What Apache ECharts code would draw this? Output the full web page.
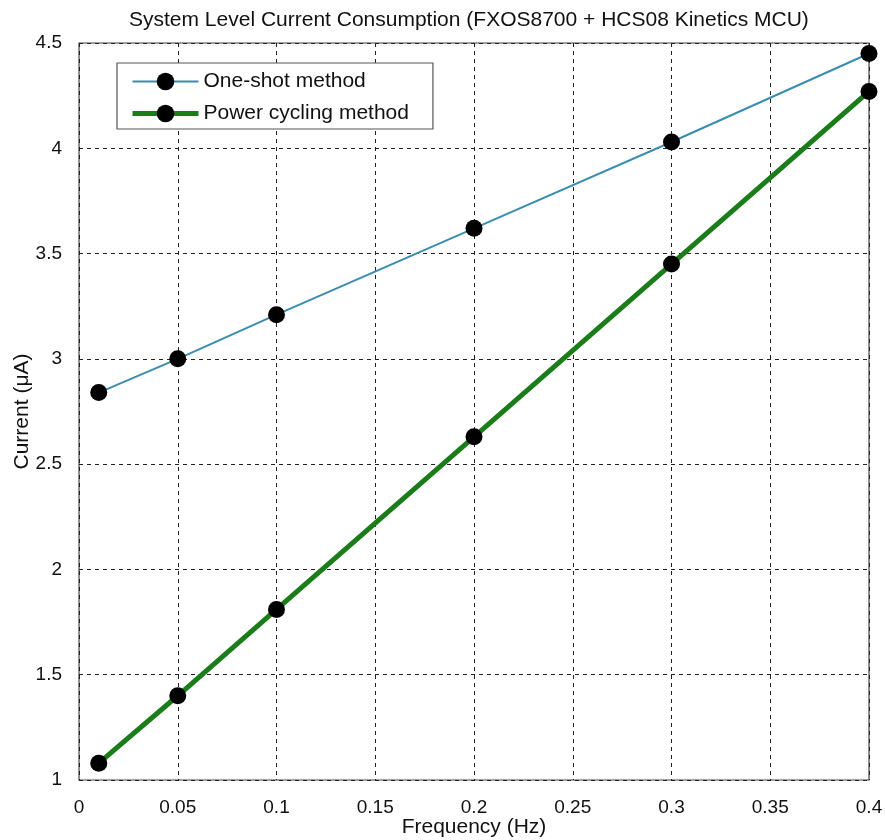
<!DOCTYPE html>
<html><head><meta charset="utf-8">
<script src="https://cdn.jsdelivr.net/npm/echarts@6/dist/echarts.min.js"></script>
<style>html,body{margin:0;padding:0;background:#fff}#c{width:885px;height:840px}</style>
</head><body><div id="c"></div>
<script>
const freq = [0.01, 0.05, 0.1, 0.2, 0.3, 0.4];
const oneShot = [2.84, 3.0, 3.21, 3.62, 4.03, 4.45];
const powerCycling = [1.08, 1.40, 1.81, 2.63, 3.45, 4.27];
const xTicks = [0, 0.05, 0.1, 0.15, 0.2, 0.25, 0.3, 0.35, 0.4];
const yTicks = [1, 1.5, 2, 2.5, 3, 3.5, 4, 4.5];

const font = 'Liberation Sans';
const chart = echarts.init(document.getElementById('c'));
chart.setOption({
  animation: false,
  backgroundColor: '#fff',
  title: {
    text: 'System Level Current Consumption (FXOS8700 + HCS08 Kinetics MCU)',
    left: 129, top: 10, padding: 0,
    textStyle: {fontFamily: font, fontSize: 21, fontWeight: 'normal', color: '#111'}
  },
  grid: {left: 79, right: 16, top: 43, bottom: 60, outerBoundsMode: 'none', containLabel: false,
    show: true, borderColor: '#444', borderWidth: 1.2, backgroundColor: '#fff'},
  legend: {
    orient: 'vertical', left: 117, top: 63,
    padding: [8, 24, 5, 13],
    borderColor: '#555', borderWidth: 1.2, backgroundColor: '#fff',
    itemWidth: 66, itemHeight: 22, itemGap: 11,
    textStyle: {fontFamily: font, fontSize: 21, color: '#111'},
    data: [
      {name: 'One-shot method', lineStyle: {width: 2}},
      {name: 'Power cycling method', lineStyle: {width: 5}}
    ]
  },
  xAxis: {
    type: 'value', min: 0, max: 0.4, interval: 0.05,
    name: 'Frequency (Hz)', nameLocation: 'middle', nameGap: 37, nameMoveOverlap: false,
    nameTextStyle: {fontFamily: font, fontSize: 21, color: '#111'},
    axisLine: {show: false}, axisTick: {show: false},
    axisLabel: {fontFamily: font, fontSize: 19, color: '#111', margin: 18,
      formatter: v => { const t = xTicks.find(x => Math.abs(x - v) < 1e-9); return t === undefined ? '' : String(t); }},
    splitLine: {show: true, lineStyle: {color: '#222', type: [4, 4], width: 1}}
  },
  yAxis: {
    type: 'value', min: 1, max: 4.5, interval: 0.5,
    name: 'Current (μA)', nameLocation: 'middle', nameGap: 46, nameMoveOverlap: false,
    nameTextStyle: {fontFamily: font, fontSize: 21, color: '#111'},
    axisLine: {show: false}, axisTick: {show: false},
    axisLabel: {fontFamily: font, fontSize: 19, color: '#111', margin: 17,
      formatter: v => { const t = yTicks.find(x => Math.abs(x - v) < 1e-9); return t === undefined ? '' : String(t); }},
    splitLine: {show: true, lineStyle: {color: '#222', type: [4, 4], width: 1}}
  },
  series: [
    {
      name: 'One-shot method', type: 'line',
      data: freq.map((f, i) => [f, oneShot[i]]),
      lineStyle: {color: '#3a8db0', width: 2},
      itemStyle: {color: '#000', borderWidth: 0},
      symbol: 'circle', symbolSize: 17, z: 3
    },
    {
      name: 'Power cycling method', type: 'line',
      data: freq.map((f, i) => [f, powerCycling[i]]),
      lineStyle: {color: '#1a7d1a', width: 5},
      itemStyle: {color: '#000', borderWidth: 0},
      symbol: 'circle', symbolSize: 17, z: 3
    }
  ]
});
</script></body></html>
